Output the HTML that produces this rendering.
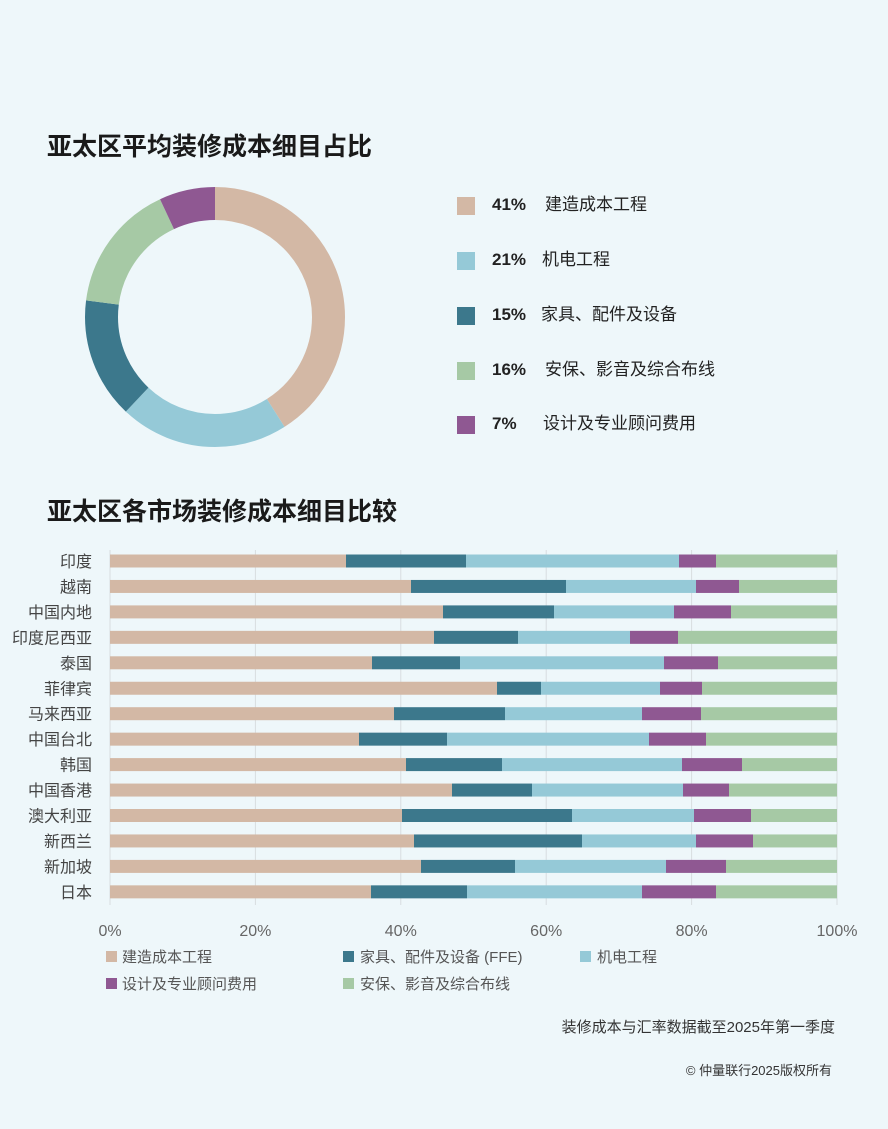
<!DOCTYPE html>
<html><head><meta charset="utf-8"><style>
html,body{margin:0;padding:0;background:#eef7fa;}
svg{display:block;font-family:"Liberation Sans","Noto Sans CJK SC",sans-serif;}
</style></head><body>
<svg width="888" height="1129" viewBox="0 0 888 1129" xmlns="http://www.w3.org/2000/svg">
<rect width="888" height="1129" fill="#eef7fa"/>
<text x="47" y="155" font-size="25" font-weight="bold" fill="#1a1a1a">亚太区平均装修成本细目占比</text>
<g transform="rotate(-90 215 317)" fill="none" stroke-width="33">
<circle cx="215" cy="317" r="113.5" stroke="#d3b8a5" stroke-dasharray="292.4 1000" stroke-dashoffset="0"/>
<circle cx="215" cy="317" r="113.5" stroke="#95c9d7" stroke-dasharray="149.8 1000" stroke-dashoffset="-292.4"/>
<circle cx="215" cy="317" r="113.5" stroke="#3c788c" stroke-dasharray="107 1000" stroke-dashoffset="-442.2"/>
<circle cx="215" cy="317" r="113.5" stroke="#a6c9a5" stroke-dasharray="114.1 1000" stroke-dashoffset="-549.2"/>
<circle cx="215" cy="317" r="113.5" stroke="#8f5892" stroke-dasharray="49.9 1000" stroke-dashoffset="-663.3"/>
</g>
<g font-size="17" fill="#222">
<rect x="457" y="197" width="18" height="18" fill="#d3b8a5"/>
<text x="492" y="210" font-weight="bold">41%</text><text x="545" y="210">建造成本工程</text>
<rect x="457" y="252" width="18" height="18" fill="#95c9d7"/>
<text x="492" y="265" font-weight="bold">21%</text><text x="542" y="265">机电工程</text>
<rect x="457" y="307" width="18" height="18" fill="#3c788c"/>
<text x="492" y="320" font-weight="bold">15%</text><text x="541" y="320">家具、配件及设备</text>
<rect x="457" y="362" width="18" height="18" fill="#a6c9a5"/>
<text x="492" y="375" font-weight="bold">16%</text><text x="545" y="375">安保、影音及综合布线</text>
<rect x="457" y="416" width="18" height="18" fill="#8f5892"/>
<text x="492" y="429" font-weight="bold">7%</text><text x="543" y="429">设计及专业顾问费用</text>
</g>
<text x="47" y="520" font-size="25" font-weight="bold" fill="#1a1a1a">亚太区各市场装修成本细目比较</text>
<g stroke="#d8dde0" stroke-width="1">
<line x1="110" y1="550" x2="110" y2="905"/><line x1="255.4" y1="550" x2="255.4" y2="905"/><line x1="400.8" y1="550" x2="400.8" y2="905"/><line x1="546.2" y1="550" x2="546.2" y2="905"/><line x1="691.6" y1="550" x2="691.6" y2="905"/><line x1="837" y1="550" x2="837" y2="905"/>
</g>
<g id="bars"></g>
<g font-size="16" fill="#444" text-anchor="end" id="labels"></g>
<g font-size="16" fill="#666" text-anchor="middle">
<text x="110" y="936">0%</text><text x="255.4" y="936">20%</text><text x="400.8" y="936">40%</text><text x="546.2" y="936">60%</text><text x="691.6" y="936">80%</text><text x="837" y="936">100%</text>
</g>
<g font-size="15" fill="#555">
<rect x="106" y="951" width="11" height="11" fill="#d3b8a5"/><text x="122" y="962">建造成本工程</text>
<rect x="343" y="951" width="11" height="11" fill="#3c788c"/><text x="360" y="962">家具、配件及设备 (FFE)</text>
<rect x="580" y="951" width="11" height="11" fill="#95c9d7"/><text x="597" y="962">机电工程</text>
<rect x="106" y="978" width="11" height="11" fill="#8f5892"/><text x="122" y="989">设计及专业顾问费用</text>
<rect x="343" y="978" width="11" height="11" fill="#a6c9a5"/><text x="360" y="989">安保、影音及综合布线</text>
</g>
<text x="835" y="1032" font-size="15" fill="#333" text-anchor="end">装修成本与汇率数据截至2025年第一季度</text>
<text x="832" y="1075" font-size="13" fill="#333" text-anchor="end">© 仲量联行2025版权所有</text>
</svg>
<script>
var d=[["印度",346,466,679,716],["越南",411,566,696,739],["中国内地",443,554,674,731],["印度尼西亚",434,518,630,678],["泰国",372,460,664,718],["菲律宾",497,541,660,702],["马来西亚",394,505,642,701],["中国台北",359,447,649,706],["韩国",406,502,682,742],["中国香港",452,532,683,729],["澳大利亚",402,572,694,751],["新西兰",414,582,696,753],["新加坡",421,515,666,726],["日本",371,467,642,716]];
var c=["#d3b8a5","#3c788c","#95c9d7","#8f5892","#a6c9a5"];
var ns="http://www.w3.org/2000/svg",b=document.getElementById("bars"),l=document.getElementById("labels");
d.forEach(function(r,i){var y=561+i*25.45;var xs=[110,r[1],r[2],r[3],r[4],837];
for(var k=0;k<5;k++){var e=document.createElementNS(ns,"rect");e.setAttribute("x",xs[k]);e.setAttribute("y",y-6.5);e.setAttribute("width",xs[k+1]-xs[k]);e.setAttribute("height",13);e.setAttribute("fill",c[k]);b.appendChild(e);}
var t=document.createElementNS(ns,"text");t.setAttribute("x",92);t.setAttribute("y",y+6);t.textContent=r[0];l.appendChild(t);});
</script>
</body></html>
